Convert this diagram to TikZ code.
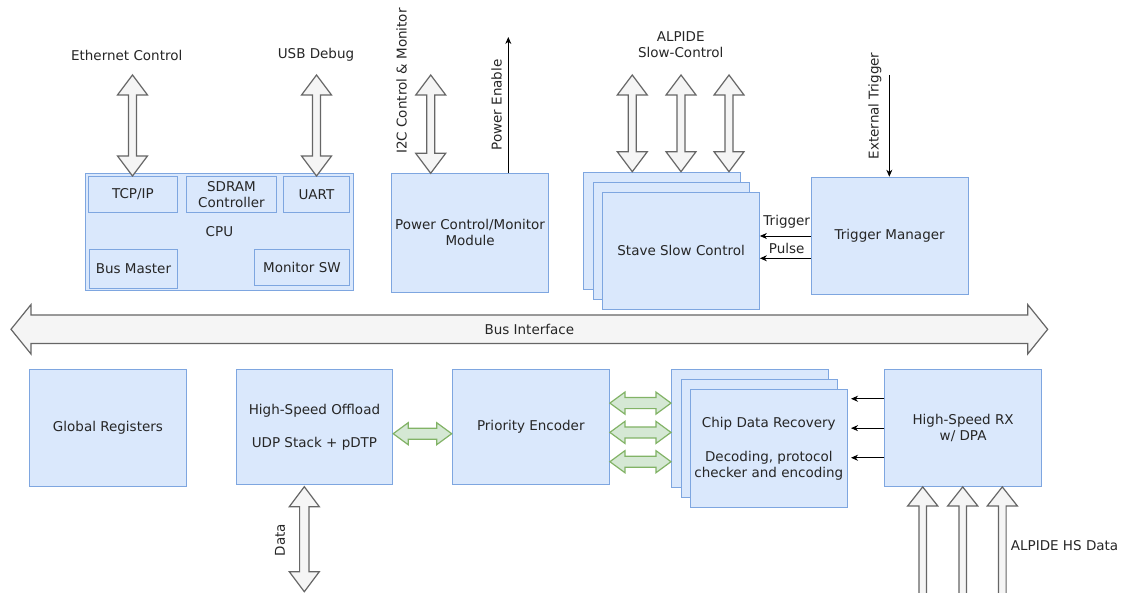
\documentclass[tikz,border=0pt]{standalone}
\usepackage{fontspec}
\setmainfont{DejaVu Sans}
\usetikzlibrary{arrows.meta,calc}
\definecolor{boxfill}{HTML}{DAE8FC}
\definecolor{boxline}{HTML}{7EA6E0}
\definecolor{arrfill}{HTML}{F5F5F5}
\definecolor{arrline}{HTML}{666666}
\definecolor{grfill}{HTML}{D5E8D4}
\definecolor{grline}{HTML}{82B366}
\newcommand\fs{\fontsize{13.5}{16}\selectfont}
% vertical double arrow: style, top tip, bottom tip, shaft half, head half, head length
\newcommand\vdarr[6]{\draw[#1] (#2) -- ($(#2)+(#5,#6)$) -- ($(#2)+(#4,#6)$) -- ($(#3)+(#4,-#6)$) -- ($(#3)+(#5,-#6)$) -- (#3) -- ($(#3)+(-#5,-#6)$) -- ($(#3)+(-#4,-#6)$) -- ($(#2)+(-#4,#6)$) -- ($(#2)+(-#5,#6)$) -- cycle;}
% horizontal double arrow: style, left tip, right tip, shaft half, head half, head length
\newcommand\hdarr[6]{\draw[#1] (#2) -- ($(#2)+(#6,-#5)$) -- ($(#2)+(#6,-#4)$) -- ($(#3)+(-#6,-#4)$) -- ($(#3)+(-#6,-#5)$) -- (#3) -- ($(#3)+(-#6,#5)$) -- ($(#3)+(-#6,#4)$) -- ($(#2)+(#6,#4)$) -- ($(#2)+(#6,#5)$) -- cycle;}
% single up arrow: style, tip, tail, shaft half, head half, head length
\newcommand\uparr[6]{\draw[#1] (#2) -- ($(#2)+(#5,#6)$) -- ($(#2)+(#4,#6)$) -- ($(#3)+(#4,0)$) -- ($(#3)+(-#4,0)$) -- ($(#2)+(-#4,#6)$) -- ($(#2)+(-#5,#6)$) -- cycle;}
\begin{document}
\begin{tikzpicture}[x=1pt,y=-1pt,
  every node/.style={font=\fs, text=black!85},
  blk/.style={draw=boxline, fill=boxfill, line width=0.9pt, inner sep=0pt, align=center, anchor=north west},
  fatarr/.style={draw=arrline, fill=arrfill, line width=1.2pt, line join=miter},
  grarr/.style={draw=grline, fill=grfill, line width=1.2pt, line join=miter},
  sig/.style={draw=black, line width=0.8pt, -{Stealth[length=7pt,width=6pt]}},
  lbl/.style={inner sep=0pt, align=center}]
\clip (0,0) rectangle (1127,593);
\fill[white] (0,0) rectangle (1127,593);
% ---- top row boxes
\node[blk, minimum width=268pt, minimum height=117pt] (cpu) at (85,173) {CPU};
\node[blk, minimum width=89pt, minimum height=36pt] (tcp) at (88,176) {TCP/IP};
\node[blk, minimum width=90pt, minimum height=36pt] (sdram) at (186,176) {SDRAM\\Controller};
\node[blk, minimum width=66pt, minimum height=36pt] (uart) at (283,176) {UART};
\node[blk, minimum width=88pt, minimum height=39pt] (busm) at (89,249) {Bus Master};
\node[blk, minimum width=95pt, minimum height=36pt] (monsw) at (254,249) {Monitor SW};
\node[blk, minimum width=157.3pt, minimum height=118.3pt] (power) at (391,173.3) {Power Control/Monitor\\Module};
\node[blk, minimum width=156.7pt, minimum height=117.6pt] (st1) at (583.3,171.7) {};
\node[blk, minimum width=156.7pt, minimum height=117.6pt] (st2) at (592.7,181.7) {};
\node[blk, minimum width=156.7pt, minimum height=117.6pt] (st3) at (602.3,191.7) {Stave Slow Control};
\node[blk, minimum width=157pt, minimum height=117.3pt] (tm) at (810.7,176.7) {Trigger Manager};
% ---- bottom row boxes
\node[blk, minimum width=157pt, minimum height=117pt] (glob) at (29,369) {Global Registers};
\node[blk, minimum width=156.6pt, minimum height=115.3pt] (hso) at (235.7,369) {High-Speed Offload\\[16.7pt]UDP Stack + pDTP};
\node[blk, minimum width=157.3pt, minimum height=115.3pt] (pe) at (451.7,369) {Priority Encoder};
\node[blk, minimum width=156.7pt, minimum height=117.7pt] (cdr1) at (671,369) {};
\node[blk, minimum width=156.7pt, minimum height=117.7pt] (cdr2) at (680.7,379.3) {};
\node[blk, minimum width=156.7pt, minimum height=117.7pt] (cdr3) at (690,389.3) {Chip Data Recovery\\[18pt]Decoding, protocol\\checker and encoding};
\node[blk, minimum width=156.7pt, minimum height=117pt] (rx) at (884.3,369) {High-Speed RX\\w/ DPA};
% ---- fat double arrows (top)
\coordinate (ethT) at (132.5,75);  \coordinate (ethB) at (ethT |- tcp.north);
\coordinate (usbT) at (316.5,75);  \coordinate (usbB) at (usbT |- uart.north);
\coordinate (i2cT) at (430.7,75);  \coordinate (i2cB) at (i2cT |- power.north);
\coordinate (as1T) at (632.3,75);  \coordinate (as1B) at (as1T |- st1.north);
\coordinate (as2T) at (681,75);    \coordinate (as2B) at (as2T |- st1.north);
\coordinate (as3T) at (729,75);    \coordinate (as3B) at (as3T |- st1.north);
\vdarr{fatarr}{ethT}{ethB}{4}{15}{20}
\vdarr{fatarr}{usbT}{usbB}{4}{15}{20}
\vdarr{fatarr}{i2cT}{i2cB}{4}{15}{20}
\vdarr{fatarr}{as1T}{as1B}{4}{15}{20}
\vdarr{fatarr}{as2T}{as2B}{4}{15}{20}
\vdarr{fatarr}{as3T}{as3B}{4}{15}{20}
% ---- signal arrows (top)
\coordinate (penT) at (508.3,37);
\draw[sig] (penT |- power.north) -- (penT);
\coordinate (extT) at (889.3,75);
\draw[sig] (extT) -- (extT |- tm.north);
\coordinate (trgY) at (0,236);
\coordinate (pulY) at (0,258.3);
\draw[sig] (tm.west |- trgY) -- (st3.east |- trgY);
\draw[sig] (tm.west |- pulY) -- (st3.east |- pulY);
% ---- bus interface
\coordinate (busL) at (11,329.3);
\coordinate (busR) at (1047.7,329.3);
\hdarr{fatarr}{busL}{busR}{14.3}{24.7}{20}
\node[lbl] (busLbl) at ($(busL)!0.5!(busR)$) {Bus Interface};
% ---- green arrows
\coordinate (g0L) at ($(hso.east)+(0,6.6)$);  \coordinate (g0R) at (g0L -| pe.west);
\coordinate (g1L) at ($(pe.east)+(0,-24)$);   \coordinate (g1R) at (g1L -| cdr1.west);
\coordinate (g2L) at ($(pe.east)+(0,5.3)$);   \coordinate (g2R) at (g2L -| cdr1.west);
\coordinate (g3L) at ($(pe.east)+(0,34.6)$);  \coordinate (g3R) at (g3L -| cdr1.west);
\hdarr{grarr}{g0L}{g0R}{5.5}{11}{15}
\hdarr{grarr}{g1L}{g1R}{5.5}{11}{15}
\hdarr{grarr}{g2L}{g2R}{5.5}{11}{15}
\hdarr{grarr}{g3L}{g3R}{5.5}{11}{15}
% ---- rx to chip data recovery
\coordinate (r1) at ($(rx.west)+(0,-29.2)$);
\coordinate (r2) at ($(rx.west)+(0,0.2)$);
\coordinate (r3) at ($(rx.west)+(0,29.8)$);
\draw[sig, shorten >=3.4pt] (r1) -- (r1 -| cdr3.east);
\draw[sig, shorten >=3.4pt] (r2) -- (r2 -| cdr3.east);
\draw[sig, shorten >=3.4pt] (r3) -- (r3 -| cdr3.east);
% ---- data arrow
\coordinate (dT) at (304.3,486.7);
\coordinate (dB) at (304.3,591.7);
\vdarr{fatarr}{dT}{dB}{4.7}{15}{20}
% ---- HS data arrows
\coordinate (hs1B) at (922.7,610);  \coordinate (hs1T) at (hs1B |- rx.south);
\coordinate (hs2B) at (962.7,610);  \coordinate (hs2T) at (hs2B |- rx.south);
\coordinate (hs3B) at (1002.3,610); \coordinate (hs3T) at (hs3B |- rx.south);
\uparr{fatarr}{hs1T}{hs1B}{3.8}{15}{19}
\uparr{fatarr}{hs2T}{hs2B}{3.8}{15}{19}
\uparr{fatarr}{hs3T}{hs3B}{3.8}{15}{19}
% ---- labels
\node[lbl] (ethL) at (126.7,55) {Ethernet Control};
\node[lbl] (usbL) at (316,55) {USB Debug};
\node[lbl, rotate=90] (i2cL) at (401.7,81) {I2C Control \& Monitor};
\node[lbl, rotate=90] (penL) at (496.7,105) {Power Enable};
\node[lbl] (alpL) at (680.7,44.3) {ALPIDE\\Slow-Control};
\node[lbl, rotate=90] (extL) at (875,106) {External Trigger};
\node[lbl] (trgL) at (786.7,221.7) {Trigger};
\node[lbl] (pulL) at (786.7,248.3) {Pulse};
\node[lbl, rotate=90] (dataL) at (280,540) {Data};
\node[lbl, anchor=west] (hsL) at (1010.7,546) {ALPIDE HS Data};
\end{tikzpicture}
\end{document}
